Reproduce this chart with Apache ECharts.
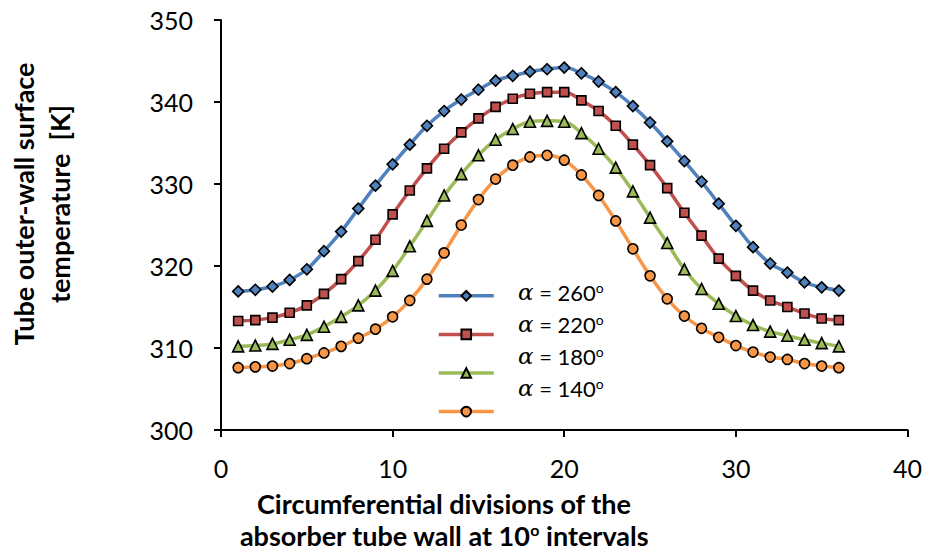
<!DOCTYPE html>
<html>
<head>
<meta charset="utf-8">
<script src="https://cdn.jsdelivr.net/npm/echarts@6/dist/echarts.min.js"></script>
<style>
  html, body { margin: 0; padding: 0; background: #fff; }
  #chart { width: 925px; height: 550px; }
</style>
</head>
<body>
<div id="chart"></div>
<script>
// ---- data ----
const divisions = [1,2,3,4,5,6,7,8,9,10,11,12,13,14,15,16,17,18,19,20,21,22,23,24,25,26,27,28,29,30,31,32,33,34,35,36];
const alphaLabels = ['260', '220', '180', '140'];
const temp260 = [316.9,317.1,317.5,318.3,319.6,321.8,324.2,327.0,329.8,332.4,334.8,337.1,338.9,340.3,341.5,342.6,343.2,343.7,344.0,344.2,343.5,342.5,341.2,339.5,337.5,335.2,332.8,330.3,327.6,324.9,322.3,320.3,319.2,318.0,317.4,317.0];
const temp220 = [313.3,313.4,313.7,314.3,315.2,316.6,318.4,320.6,323.2,326.3,329.2,331.9,334.3,336.3,338.0,339.4,340.4,341.0,341.2,341.2,340.2,338.9,337.1,334.8,332.3,329.5,326.5,323.7,320.9,318.8,317.0,315.8,315.0,314.2,313.6,313.4];
const temp180 = [310.2,310.3,310.5,311.0,311.6,312.6,313.8,315.2,317.0,319.4,322.4,325.5,328.6,331.2,333.5,335.4,336.7,337.6,337.7,337.6,336.2,334.3,332.0,329.1,325.9,322.8,319.6,317.2,315.4,313.9,312.8,312.0,311.5,311.0,310.6,310.2];
const temp140 = [307.6,307.7,307.8,308.1,308.7,309.4,310.2,311.2,312.3,313.8,315.8,318.4,321.6,325.0,328.1,330.6,332.3,333.3,333.5,332.9,331.1,328.6,325.5,322.1,318.8,316.0,313.9,312.4,311.3,310.3,309.5,308.9,308.6,308.1,307.8,307.6];
const xTicks = { min: 0, max: 40, interval: 10 };
const yTicks = { min: 300, max: 350, interval: 10 };
const xTitleLines = ['Circumferential divisions of the', 'absorber tube wall at 10{s|o} intervals'];
const yTitle = 'Tube outer-wall surface\ntemperature  [K]';

// ---- styling ----
const seriesValues = [temp260, temp220, temp180, temp140];
const colors = ['#4F81BD', '#C0504D', '#9BBB59', '#F79646'];
const symbols = ['diamond', 'rect', 'triangle', 'circle'];
const symbolSizes = [11, 9, 11, 10];
const names = alphaLabels.map(a => 'α = ' + a + '°');

const chart = echarts.init(document.getElementById('chart'), null, { renderer: 'svg' });

const series = seriesValues.map((vals, i) => ({
  name: names[i],
  type: 'line',
  smooth: 0.4,
  data: divisions.map((d, k) => [d, vals[k]]),
  symbol: symbols[i],
  symbolSize: symbolSizes[i],
  showAllSymbol: true,
  lineStyle: { color: colors[i], width: 3.5 },
  itemStyle: { color: colors[i], borderColor: '#000', borderWidth: 1.6 },
  emphasis: { disabled: true },
  z: 10 - i
}));

const richLegend = {
  a: { fontFamily: 'DejaVu Serif', fontStyle: 'italic', fontSize: 23, color: '#000' },
  t: { fontFamily: 'Lato', fontSize: 22, color: '#000' },
  s: { fontFamily: 'Lato', fontSize: 14, color: '#000', verticalAlign: 'top', padding: [0, 0, 9, 0] }
};

const titleRich = {
  s: { font: 'bold 16px Lato', fill: '#000', verticalAlign: 'top', padding: [0, 0, 9, 0] }
};

const option = {
  backgroundColor: '#fff',
  animation: false,
  grid: { left: 221, right: 16, top: 20, bottom: 120, containLabel: false },
  xAxis: {
    type: 'value',
    min: xTicks.min, max: xTicks.max, interval: xTicks.interval,
    axisLine: { show: true, lineStyle: { color: '#000', width: 2 } },
    axisTick: { show: true, length: 7, lineStyle: { color: '#000', width: 2 } },
    axisLabel: { fontFamily: 'Lato', fontSize: 25, color: '#000', margin: 25 },
    splitLine: { show: false }
  },
  yAxis: {
    type: 'value',
    min: yTicks.min, max: yTicks.max, interval: yTicks.interval,
    axisLine: { show: true, lineStyle: { color: '#000', width: 2 } },
    axisTick: { show: true, length: 7, lineStyle: { color: '#000', width: 2 } },
    axisLabel: { fontFamily: 'Lato', fontSize: 25, color: '#000', margin: 28 },
    splitLine: { show: false }
  },
  legend: [
    {
      orient: 'vertical',
      left: 437, top: 290,
      padding: 0,
      itemWidth: 55, itemHeight: 12, itemGap: 27,
      data: names,
      formatter: () => ' ',
      textStyle: { fontSize: 10 },
      lineStyle: { width: 3.5 },
      selectedMode: false
    },
    {
      orient: 'vertical',
      left: 512, top: 280,
      padding: 0,
      itemWidth: 0, itemHeight: 0, itemGap: 8,
      data: names.map(n => ({ name: n, icon: 'rect', itemStyle: { opacity: 0 }, lineStyle: { opacity: 0 } })),
      formatter: (n) => {
        const idx = names.indexOf(n);
        return '{a|α}{t| = ' + alphaLabels[idx] + '}{s|o}';
      },
      textStyle: { lineHeight: 24, rich: richLegend },
      selectedMode: false
    }
  ],
  graphic: [
    {
      type: 'text',
      x: 444, y: 503,
      style: {
        text: xTitleLines[0],
        font: 'bold 27px Lato',
        fill: '#000',
        align: 'center',
        verticalAlign: 'middle',
        lineHeight: 27
      }
    },
    {
      type: 'text',
      x: 444, y: 535,
      style: {
        text: xTitleLines[1],
        font: 'bold 27px Lato',
        fill: '#000',
        align: 'center',
        verticalAlign: 'middle',
        lineHeight: 27,
        rich: titleRich
      }
    },
    {
      type: 'text',
      x: 41, y: 204,
      rotation: Math.PI / 2,
      style: {
        text: yTitle,
        font: 'bold 27px Lato',
        fill: '#000',
        align: 'center',
        verticalAlign: 'middle',
        lineHeight: 36
      }
    }
  ],
  series: series
};

chart.setOption(option);
</script>
</body>
</html>
